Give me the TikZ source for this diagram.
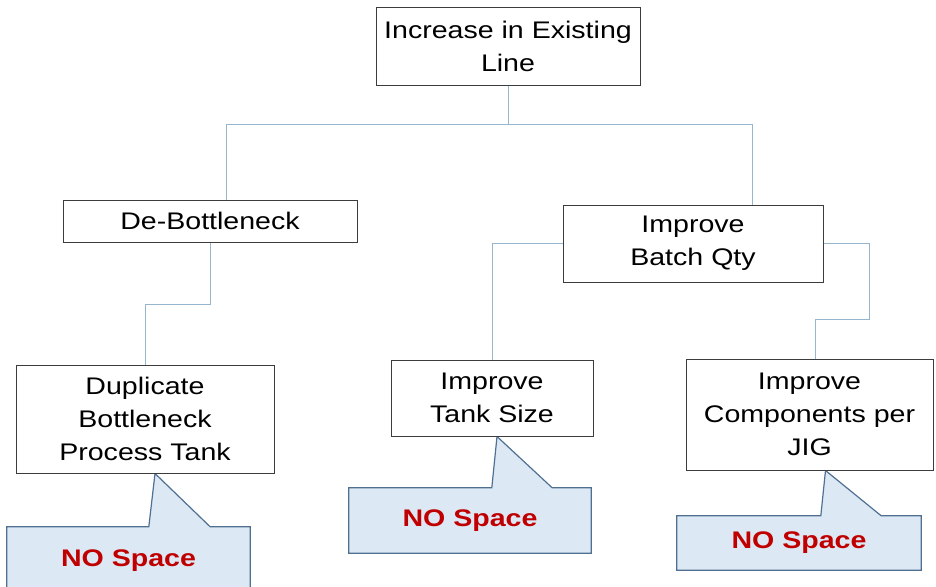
\documentclass[tikz,border=0pt]{standalone}
\usepackage{fontspec}
\setmainfont{Liberation Sans}[FakeStretch=1.19]
\usetikzlibrary{backgrounds,calc,positioning}
\definecolor{tclink}{RGB}{150,182,206}
\definecolor{tcedge}{RGB}{60,60,60}
\definecolor{tcnote}{RGB}{220,232,244}
\definecolor{tcnoteline}{RGB}{80,112,146}
\definecolor{tcred}{RGB}{192,0,0}
\begin{document}
\begin{tikzpicture}[x=1pt,y=-1pt,
    box/.style={draw=tcedge,fill=white,line width=1pt,align=center,inner sep=0pt,font=\fontsize{24}{33}\selectfont},
    link/.style={draw=tclink,line width=1pt},
    note/.style={inner sep=0pt,text=tcred,font=\fontsize{24}{33}\selectfont\bfseries},
    notebox/.style={draw=tcnoteline,fill=tcnote,line width=1.2pt,line join=miter}]
        \useasboundingbox (0,0) rectangle (936,586);
        \node[box,minimum width=264,minimum height=77] (goal) at (508,46.5) {Increase in Existing\\Line};
        \node[box,minimum width=294,minimum height=42] (debot) at (210,221) {De-Bottleneck};
        \node[box,minimum width=260,minimum height=77] (batch) at (693,243.5) {Improve\\Batch Qty};
        \node[box,minimum width=258,minimum height=108] (dup) at (145,419) {Duplicate\\Bottleneck\\Process Tank};
        \node[box,minimum width=202,minimum height=76] (tank) at (492,398) {Improve\\Tank Size};
        \node[box,minimum width=247,minimum height=111] (comp) at (809.5,414.5) {Improve\\Components per\\JIG};
        \draw[link] (goal.south) -- ++(0,39) coordinate (split);
        \draw[link] (split) -| ([xshift=16]debot.north);
        \draw[link] (split) -| ([xshift=59]batch.north);
        \draw[link] (debot.south) -- ++(0,62) -| (dup.north);
        \draw[link] (batch.west) -| (tank.north);
        \draw[link] (batch.east) -- ++(46,0) -- ++(0,76) -| ([xshift=6]comp.north);
        \node[note,minimum width=243,minimum height=68] (gap1) at (128.5,561) {NO Space};
        \node[note,minimum width=242,minimum height=65] (gap2) at (470,520.5) {NO Space};
        \node[note,minimum width=244,minimum height=54] (gap3) at (799,543) {NO Space};
        \begin{scope}[on background layer]
        \draw[notebox] (gap1.north west) -- ++(142,0) -- ([xshift=10]dup.south) -- ([xshift=-40]gap1.north east) -- (gap1.north east) -- (gap1.south east) -- (gap1.south west) -- cycle;
        \draw[notebox] (gap2.north west) -- ++(143,0) -- ([xshift=5]tank.south) -- ([xshift=-39]gap2.north east) -- (gap2.north east) -- (gap2.south east) -- (gap2.south west) -- cycle;
        \draw[notebox] (gap3.north west) -- ++(144,0) -- ([xshift=16]comp.south) -- ([xshift=-40]gap3.north east) -- (gap3.north east) -- (gap3.south east) -- (gap3.south west) -- cycle;
        \end{scope}
\end{tikzpicture}
\end{document}
